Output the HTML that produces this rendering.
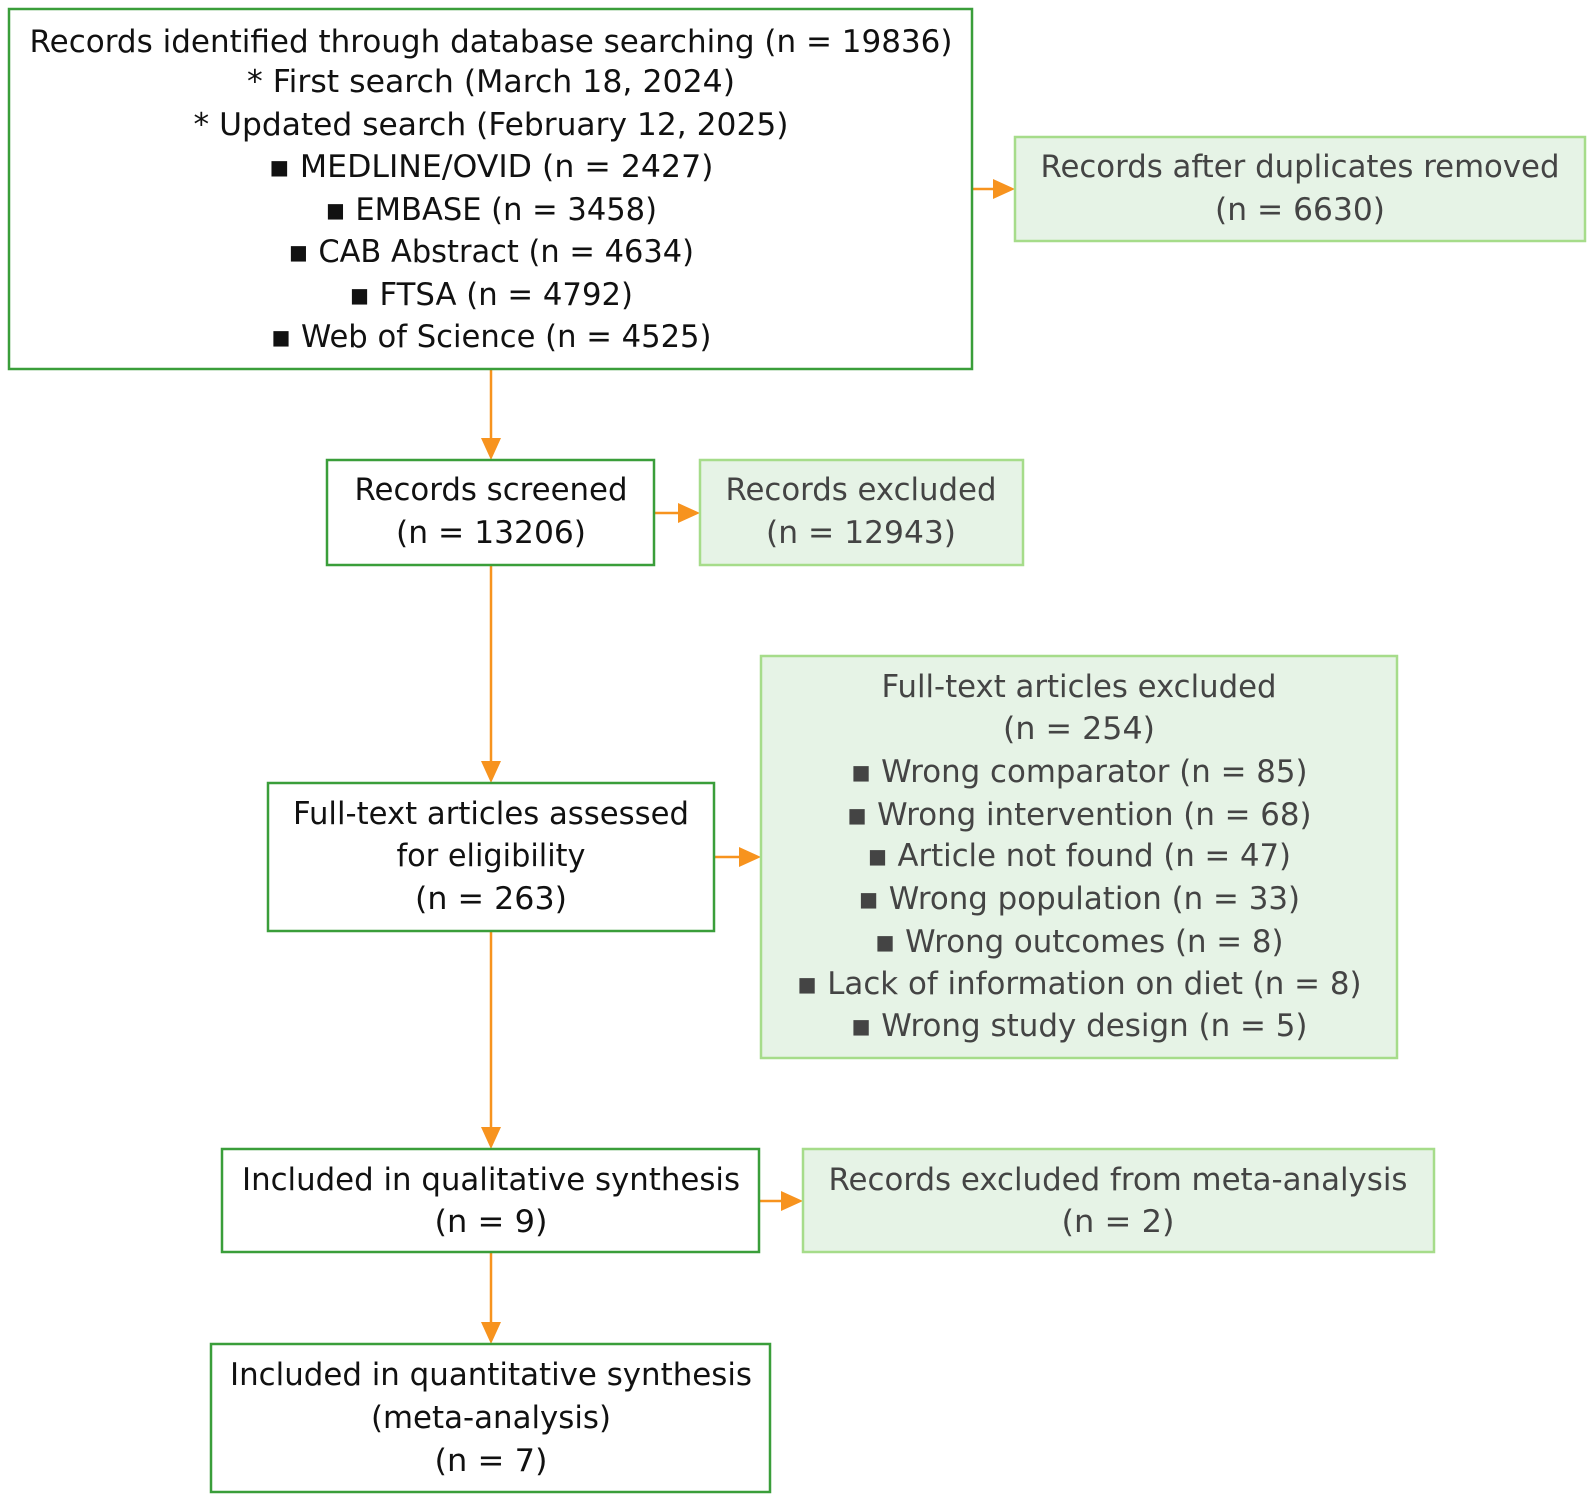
<!DOCTYPE html>
<html><head><meta charset="utf-8"><style>html,body{margin:0;padding:0;background:#fff}svg{display:block}text{font-family:"DejaVu Sans","Liberation Sans",sans-serif;font-size:31px;text-anchor:middle}</style></head>
<body>
<svg width="1595" height="1502" viewBox="0 0 1595 1502" xmlns="http://www.w3.org/2000/svg">
<defs><marker id="a" markerWidth="10" markerHeight="10" refX="9" refY="5" orient="auto" markerUnits="userSpaceOnUse" viewBox="0 0 10 10"><path d="M0,0 L10,5 L0,10z" fill="#f7931e"/></marker></defs>
<g fill="none" stroke="#f7931e" stroke-width="2.5">
<line x1="491" y1="369" x2="491" y2="440"/><path d="M481,438 L491,460 L501,438z" fill="#f7931e" stroke="none"/>
<line x1="491" y1="565" x2="491" y2="763"/><path d="M481,761 L491,783 L501,761z" fill="#f7931e" stroke="none"/>
<line x1="491" y1="931" x2="491" y2="1129"/><path d="M481,1127 L491,1149 L501,1127z" fill="#f7931e" stroke="none"/>
<line x1="491" y1="1252" x2="491" y2="1324"/><path d="M481,1322 L491,1344 L501,1322z" fill="#f7931e" stroke="none"/>
<line x1="973" y1="189" x2="995" y2="189"/><path d="M993,179 L1015,189 L993,199z" fill="#f7931e" stroke="none"/>
<line x1="654" y1="513" x2="680" y2="513"/><path d="M678,503 L700,513 L678,523z" fill="#f7931e" stroke="none"/>
<line x1="714" y1="857" x2="741" y2="857"/><path d="M739,847 L761,857 L739,867z" fill="#f7931e" stroke="none"/>
<line x1="759" y1="1201" x2="783" y2="1201"/><path d="M781,1191 L803,1201 L781,1211z" fill="#f7931e" stroke="none"/>
</g>
<g fill="#fff" stroke="#3a9e3a" stroke-width="2.5">
<rect x="9" y="9" width="963" height="360"/>
<rect x="327" y="460" width="327" height="105"/>
<rect x="268" y="783" width="446" height="148"/>
<rect x="222" y="1149" width="537" height="103"/>
<rect x="211" y="1344" width="559" height="148"/>
</g>
<g fill="#e6f3e6" stroke="#a6dc8a" stroke-width="2.5">
<rect x="1015" y="137" width="570" height="104"/>
<rect x="700" y="460" width="323" height="105"/>
<rect x="761" y="656" width="636" height="402"/>
<rect x="803" y="1149" width="631" height="103"/>
</g>
<g fill="#111" lengthAdjust="spacingAndGlyphs">
<text x="491" y="52" textLength="923" lengthAdjust="spacingAndGlyphs">Records identified through database searching (n = 19836)</text>
<text x="491" y="92" textLength="488" lengthAdjust="spacingAndGlyphs">* First search (March 18, 2024)</text>
<text x="491" y="135" textLength="595" lengthAdjust="spacingAndGlyphs">* Updated search (February 12, 2025)</text>
<text x="491" y="177" textLength="445" lengthAdjust="spacingAndGlyphs">▪ MEDLINE/OVID (n = 2427)</text>
<text x="491" y="220" textLength="332" lengthAdjust="spacingAndGlyphs">▪ EMBASE (n = 3458)</text>
<text x="491" y="262" textLength="406" lengthAdjust="spacingAndGlyphs">▪ CAB Abstract (n = 4634)</text>
<text x="491" y="305" textLength="284" lengthAdjust="spacingAndGlyphs">▪ FTSA (n = 4792)</text>
<text x="491" y="347" textLength="441" lengthAdjust="spacingAndGlyphs">▪ Web of Science (n = 4525)</text>
<text x="491" y="500" textLength="273" lengthAdjust="spacingAndGlyphs">Records screened</text>
<text x="491" y="543" textLength="190" lengthAdjust="spacingAndGlyphs">(n = 13206)</text>
<text x="491" y="824" textLength="396" lengthAdjust="spacingAndGlyphs">Full-text articles assessed</text>
<text x="491" y="866" textLength="189" lengthAdjust="spacingAndGlyphs">for eligibility</text>
<text x="491" y="909" textLength="152" lengthAdjust="spacingAndGlyphs">(n = 263)</text>
<text x="491" y="1190" textLength="498" lengthAdjust="spacingAndGlyphs">Included in qualitative synthesis</text>
<text x="491" y="1232" textLength="113" lengthAdjust="spacingAndGlyphs">(n = 9)</text>
<text x="491" y="1385" textLength="522" lengthAdjust="spacingAndGlyphs">Included in quantitative synthesis</text>
<text x="491" y="1428" textLength="240" lengthAdjust="spacingAndGlyphs">(meta-analysis)</text>
<text x="491" y="1471" textLength="113" lengthAdjust="spacingAndGlyphs">(n = 7)</text>
</g>
<g fill="#444">
<text x="1300" y="177" textLength="519" lengthAdjust="spacingAndGlyphs">Records after duplicates removed</text>
<text x="1300" y="220" textLength="170" lengthAdjust="spacingAndGlyphs">(n = 6630)</text>
<text x="861" y="500" textLength="271" lengthAdjust="spacingAndGlyphs">Records excluded</text>
<text x="861" y="543" textLength="190" lengthAdjust="spacingAndGlyphs">(n = 12943)</text>
<text x="1079" y="697" textLength="395" lengthAdjust="spacingAndGlyphs">Full-text articles excluded</text>
<text x="1079" y="739" textLength="152" lengthAdjust="spacingAndGlyphs">(n = 254)</text>
<text x="1079" y="782" textLength="457" lengthAdjust="spacingAndGlyphs">▪ Wrong comparator (n = 85)</text>
<text x="1079" y="825" textLength="465" lengthAdjust="spacingAndGlyphs">▪ Wrong intervention (n = 68)</text>
<text x="1079" y="866" textLength="424" lengthAdjust="spacingAndGlyphs">▪ Article not found (n = 47)</text>
<text x="1079" y="909" textLength="442" lengthAdjust="spacingAndGlyphs">▪ Wrong population (n = 33)</text>
<text x="1079" y="952" textLength="409" lengthAdjust="spacingAndGlyphs">▪ Wrong outcomes (n = 8)</text>
<text x="1079" y="994" textLength="565" lengthAdjust="spacingAndGlyphs">▪ Lack of information on diet (n = 8)</text>
<text x="1079" y="1036" textLength="457" lengthAdjust="spacingAndGlyphs">▪ Wrong study design (n = 5)</text>
<text x="1118" y="1190" textLength="579" lengthAdjust="spacingAndGlyphs">Records excluded from meta-analysis</text>
<text x="1118" y="1232" textLength="113" lengthAdjust="spacingAndGlyphs">(n = 2)</text>
</g>
</svg>
</body></html>
